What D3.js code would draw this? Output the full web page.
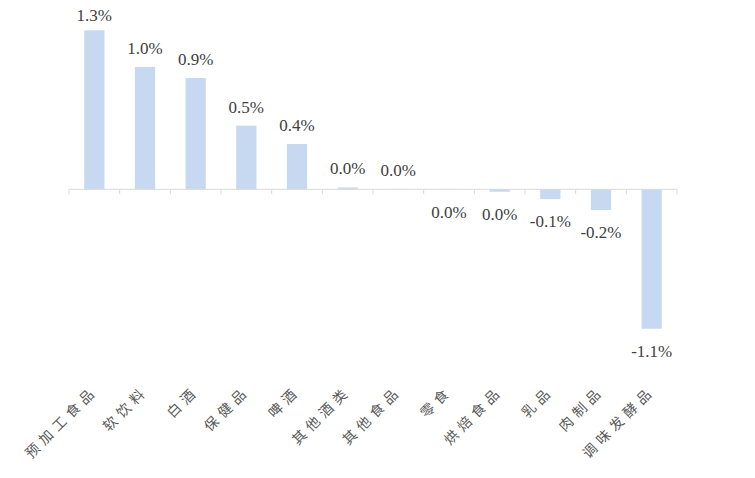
<!DOCTYPE html>
<html><head><meta charset="utf-8">
<script src="https://cdn.jsdelivr.net/npm/d3@7"></script>
<style>body{margin:0;background:#fff}svg{display:block}</style>
</head><body><svg id="c" width="755" height="478"></svg>
<script>
const categories = ["预加工食品","软饮料","白酒","保健品","啤酒","其他酒类","其他食品","零食","烘焙食品","乳品","肉制品","调味发酵品"];
const values = [1.30, 1.00, 0.91, 0.52, 0.37, 0.015, 0.002, -0.002, -0.02, -0.08, -0.17, -1.14];

const svg = d3.select("#c");
const x0 = 69, x1 = 677, zeroY = 189.3, pxPer = 122.3;
const x = d3.scaleBand().domain(categories).range([x0, x1]).paddingInner(0.6).paddingOuter(0.3);
const y = d3.scaleLinear().domain([-1.5, 1.5]).range([zeroY + 1.5 * pxPer, zeroY - 1.5 * pxPer]);

const fmt = v => ((Math.round(v * 10) / 10) || 0).toFixed(1) + "%";

svg.append("g").selectAll("rect").data(values).join("rect")
  .attr("x", (d, i) => x(categories[i]))
  .attr("width", x.bandwidth())
  .attr("y", d => y(Math.max(0, d)))
  .attr("height", d => Math.abs(y(d) - y(0)))
  .attr("fill", "#c6d9f1");

// axis
const step = (x1 - x0) / categories.length;
const ax = svg.append("g");
ax.append("line").attr("x1", x0).attr("x2", x1).attr("y1", y(0)).attr("y2", y(0))
  .attr("stroke", "#d9d9d9").attr("stroke-width", 1);
ax.selectAll("line.t").data(d3.range(categories.length + 1)).join("line").attr("class", "t")
  .attr("x1", i => x0 + i * step).attr("x2", i => x0 + i * step)
  .attr("y1", y(0)).attr("y2", y(0) + 5)
  .attr("stroke", "#d9d9d9").attr("stroke-width", 1);

// value labels
svg.append("g").selectAll("text").data(values).join("text")
  .attr("x", (d, i) => x(categories[i]) + x.bandwidth() / 2)
  .attr("y", d => d >= 0 ? Math.max(21, y(d) - 13) : y(d) + 28)
  .attr("text-anchor", "middle")
  .attr("font-family", "'Liberation Serif', 'Times New Roman', serif")
  .attr("font-size", 17)
  .attr("fill", "#404040")
  .text(d => fmt(d));

// category labels
svg.append("g").selectAll("text").data(categories).join("text")
  .attr("transform", d => `translate(${x(d) + x.bandwidth() / 2 + 4},${392}) rotate(-45)`)
  .attr("text-anchor", "end")
  .attr("font-family", "'Noto Sans CJK SC', sans-serif")
  .attr("font-size", 14)
  .attr("letter-spacing", 5)
  .attr("fill", "#595959")
  .text(d => d);
</script></body></html>
